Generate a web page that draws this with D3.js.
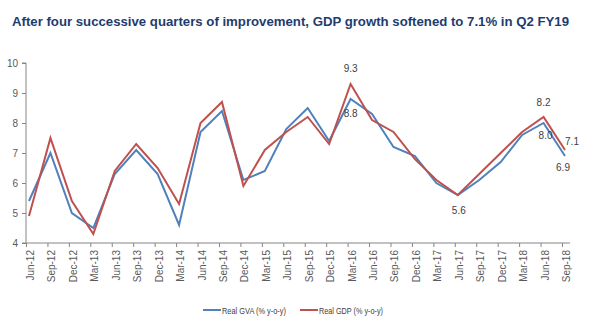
<!DOCTYPE html>
<html>
<head>
<meta charset="utf-8">
<script src="https://cdn.jsdelivr.net/npm/d3@7"></script>
<style>
  body { margin: 0; background: #fff; }
  svg { display: block; }
  .tick text { fill: #595959; }
</style>
</head>
<body>
<div id="chart"></div>
<script>
// quarters, Jun-12 .. Sep-18
var quarters = ["Jun-12","Sep-12","Dec-12","Mar-13","Jun-13","Sep-13","Dec-13","Mar-14",
  "Jun-14","Sep-14","Dec-14","Mar-15","Jun-15","Sep-15","Dec-15","Mar-16","Jun-16",
  "Sep-16","Dec-16","Mar-17","Jun-17","Sep-17","Dec-17","Mar-18","Jun-18","Sep-18"];

var gva = [5.4,7.0,5.0,4.5,6.3,7.1,6.3,4.6,7.7,8.4,6.1,6.4,7.8,8.5,7.4,8.8,8.3,
  7.2,6.9,6.0,5.6,6.1,6.7,7.6,8.0,6.9];
var gdp = [4.9,7.5,5.4,4.3,6.4,7.3,6.5,5.3,8.0,8.7,5.9,7.1,7.7,8.2,7.3,9.3,8.1,
  7.7,6.8,6.1,5.6,6.3,7.0,7.7,8.2,7.1];

var yTicks = [4,5,6,7,8,9,10];

// value labels: series, index, dx, dy
var callouts = [
  {s: "gdp", i: 15, dx: 0, dy: -12},
  {s: "gva", i: 15, dx: 0, dy: 18},
  {s: "gdp", i: 24, dx: 0, dy: -11},
  {s: "gva", i: 24, dx: 2, dy: 16},
  {s: "gdp", i: 25, dx: 7, dy: -5},
  {s: "gva", i: 25, dx: -2, dy: 15},
  {s: "gva", i: 20, dx: 1, dy: 19}
];

var W = 597, H = 327;
var mLeft = 26, mRight = 570, mTop = 63, mBottom = 243;

var svg = d3.select("#chart").append("svg").attr("width", W).attr("height", H);

svg.append("text")
  .attr("x", 12).attr("y", 26)
  .attr("fill", "#1f3c6e")
  .style("font-family", "'Liberation Sans', Arial, sans-serif")
  .style("font-weight", "bold")
  .style("font-size", "13.5px")
  .attr("textLength", 557)
  .attr("lengthAdjust", "spacingAndGlyphs")
  .text("After four successive quarters of improvement, GDP growth softened to 7.1% in Q2 FY19");

var x = d3.scalePoint().domain(quarters).range([29, 565]);
var y = d3.scaleLinear().domain([4, 10]).range([mBottom, mTop]);

var fontAxis = "'Liberation Sans Narrow', 'Liberation Sans', Arial, sans-serif";

// y axis
var yAxis = svg.append("g")
  .attr("transform", "translate(" + mLeft + ",0)")
  .call(d3.axisLeft(y).tickValues(yTicks).tickSize(4).tickPadding(4).tickFormat(d3.format("d")));
yAxis.selectAll("path, line").attr("stroke", "#868686");
yAxis.selectAll("text").style("font-family", fontAxis).style("font-size", "10px");
yAxis.select(".domain").attr("d", "M-4," + mTop + "H0V" + mBottom + "H-4");

// x axis
var xAxis = svg.append("g")
  .attr("transform", "translate(0," + mBottom + ")")
  .call(d3.axisBottom(x).tickSize(4).tickPadding(6));
xAxis.select(".domain").attr("d", "M" + mLeft + ",0H" + mRight);
xAxis.selectAll("path, line").attr("stroke", "#868686");
xAxis.selectAll(".tick line").attr("x1", -3).attr("x2", -3);
xAxis.selectAll("text")
  .style("font-family", fontAxis).style("font-size", "10px")
  .attr("text-anchor", "end")
  .attr("transform", "rotate(-90)")
  .attr("x", -7).attr("y", 1).attr("dy", "0.35em");

var line = d3.line()
  .x(function(d, i) { return x(quarters[i]); })
  .y(function(d) { return y(d); });

var series = {gva: gva, gdp: gdp};
var colors = {gva: "#4f81bd", gdp: "#c0504d"};

svg.append("path").datum(gva)
  .attr("d", line).attr("fill", "none")
  .attr("stroke", colors.gva).attr("stroke-width", 2);
svg.append("path").datum(gdp)
  .attr("d", line).attr("fill", "none")
  .attr("stroke", colors.gdp).attr("stroke-width", 2);

svg.selectAll(".callout").data(callouts).enter().append("text")
  .attr("class", "callout")
  .attr("x", function(d) { return x(quarters[d.i]) + d.dx; })
  .attr("y", function(d) { return y(series[d.s][d.i]) + d.dy; })
  .attr("text-anchor", "middle")
  .attr("fill", "#404040")
  .style("font-family", fontAxis).style("font-size", "10px")
  .text(function(d) { return d3.format(".1f")(series[d.s][d.i]); });

// legend
var legend = [
  {name: "Real GVA (% y-o-y)", key: "gva", x: 203},
  {name: "Real GDP (% y-o-y)", key: "gdp", x: 300}
];
var lg = svg.selectAll(".lg").data(legend).enter().append("g")
  .attr("transform", function(d) { return "translate(" + d.x + ",310)"; });
lg.append("line").attr("x1", 0).attr("x2", 18)
  .attr("stroke", function(d) { return colors[d.key]; }).attr("stroke-width", 2);
lg.append("text").attr("x", 19).attr("y", 3.5)
  .attr("fill", "#404040")
  .style("font-family", fontAxis).style("font-size", "9px")
  .attr("textLength", 64)
  .attr("lengthAdjust", "spacingAndGlyphs")
  .text(function(d) { return d.name; });
</script>
</body>
</html>
